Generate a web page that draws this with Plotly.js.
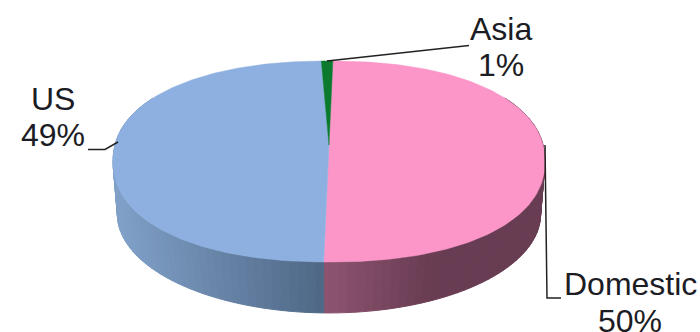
<!DOCTYPE html>
<html>
<head>
<meta charset="utf-8">
<script src="https://cdn.plot.ly/plotly-3.0.1.min.js"></script>
<style>html,body{margin:0;padding:0;background:#fff;overflow:hidden}#chart{width:700px;height:332px}</style>
</head>
<body>
<div id="chart"></div>
<script>
// Market share by region
const sliceLabels = ['Domestic', 'US', 'Asia'];
const sliceValues = [50, 49, 1];
const sliceColors = ['#fc96c9', '#8db0e1', '#0b7a2e'];

// Rim shading per slice: colour at the near seam and at the far end of the ramp
const rimNear = [[142, 84, 112], [78, 103, 133], [6, 70, 26]];
const rimFar = [[104, 60, 82], [128, 160, 200], [6, 70, 26]];
const rimRampWidth = [110, 208, 10];

// Pie geometry, in the pixel space of the axes
const hub = {x: 329, y: 145};
const radiusX = 213, radiusY = 97.8, tilt = 0.164;
const rimDepth = 53.3, rimScale = 0.98;
const startAngle = 1.2;
const topFullness = 2.2;   // exponent of the top face outline; 2 is a plain ellipse

const deg = Math.PI / 180;
const halfW = radiusX / Math.sqrt(1 - tilt * tilt);
const halfH = radiusY * (1 / (1 - tilt) + 1 / (1 + tilt)) / 2;
const midY = radiusY * (1 / (1 - tilt) - 1 / (1 + tilt)) / 2;

function project(angle, onRim) {
  const u = Math.sin(angle * deg), v = Math.cos(angle * deg), w = 1 + tilt * v;
  const dx = radiusX * u / w, dy = -radiusY * v / w - midY;
  if (onRim) {
    return {
      x: hub.x + rimScale * dx,
      y: hub.y + rimDepth + rimScale * (dy + midY)
    };
  }
  const ex = Math.abs(dx / halfW), ey = Math.abs(dy / halfH);
  const r = 1 / Math.pow(Math.pow(ex, topFullness) + Math.pow(ey, topFullness), 1 / topFullness);
  return {x: hub.x + r * dx, y: hub.y + midY + r * dy};
}
function mix(a, b, t) {
  const c = a.map((n, i) => Math.round(n + (b[i] - n) * t));
  return `rgb(${c[0]},${c[1]},${c[2]})`;
}
function patch(xs, ys, color, width) {
  return {
    type: 'scatter', mode: 'lines', x: xs, y: ys, fill: 'toself', fillcolor: color,
    line: {color: color, width: width}, hoverinfo: 'skip', showlegend: false
  };
}

const total = sliceValues.reduce((a, b) => a + b, 0);
const spans = [];
let cursor = startAngle;
sliceValues.forEach(v => {
  spans.push([cursor, cursor + v / total * 360]);
  cursor += v / total * 360;
});

const traces = [];

// Rim: narrow shaded strips, visible only on the near half of the pie
const seamX = project(spans[0][1], false).x;
spans.forEach((span, i) => {
  const from = Math.max(span[0], 60), to = Math.min(span[1], 300);
  for (let a = from; a < to; a += 2) {
    const b = Math.min(a + 2, to);
    const p = [project(a, false), project(b, false), project(b, true), project(a, true)];
    const t = Math.min(1, Math.abs((p[0].x + p[1].x) / 2 - seamX) / rimRampWidth[i]);
    traces.push(patch(p.concat(p[0]).map(q => q.x), p.concat(p[0]).map(q => q.y),
      mix(rimNear[i], rimFar[i], t), 1));
  }
});

// Top face
spans.forEach((span, i) => {
  const xs = [hub.x], ys = [hub.y];
  for (let a = span[0]; ; a += 1) {
    const q = project(Math.min(a, span[1]), false);
    xs.push(q.x); ys.push(q.y);
    if (a >= span[1]) break;
  }
  xs.push(hub.x); ys.push(hub.y);
  traces.push(patch(xs, ys, sliceColors[i], 0.5));
});

// Leader lines from each slice to its label
const leaders = [
  {x: [545, 547, 561], y: [145, 298, 298]},
  {x: [88, 105, 118], y: [149.5, 149.5, 142]},
  {x: [327, 469, 469], y: [61, 45.5, 45.5]}
];
leaders.forEach(l => traces.push({
  type: 'scatter', mode: 'lines', x: l.x, y: l.y,
  line: {color: '#222222', width: 1.5}, hoverinfo: 'skip', showlegend: false
}));

// Two-line labels: name above percentage
const labelSpots = [
  {x: 630, name: 284, pct: 320.5},
  {x: 53, name: 98.5, pct: 135},
  {x: 501, name: 28.5, pct: 64.5}
];
const annotations = [];
sliceLabels.forEach((name, i) => {
  const s = labelSpots[i];
  [[name, s.name], [Math.round(sliceValues[i] / total * 100) + '%', s.pct]].forEach(([text, y]) => {
    annotations.push({
      x: s.x, y: y, xref: 'x', yref: 'y', text: text, showarrow: false,
      xanchor: 'center', yanchor: 'middle',
      font: {family: 'Liberation Sans, Arial, sans-serif', size: 32, color: '#1c1c24'}
    });
  });
});

Plotly.newPlot('chart', traces, {
  width: 700, height: 332,
  margin: {l: 0, r: 0, t: 0, b: 0},
  paper_bgcolor: '#ffffff', plot_bgcolor: '#ffffff',
  showlegend: false,
  xaxis: {range: [0, 700], visible: false, fixedrange: true},
  yaxis: {range: [332, 0], visible: false, fixedrange: true},
  annotations: annotations
}, {displayModeBar: false, staticPlot: true});
</script>
</body>
</html>
